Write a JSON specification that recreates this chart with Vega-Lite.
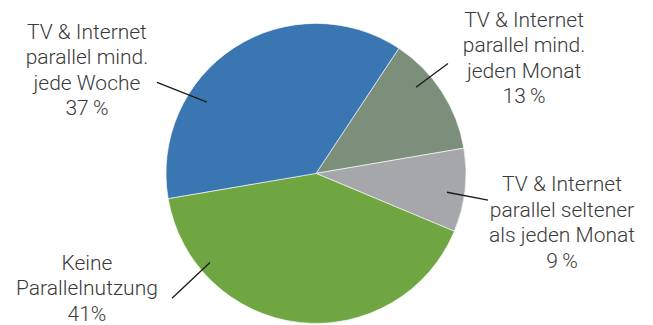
{
  "$schema": "https://vega.github.io/schema/vega-lite/v6.json",
  "width": 653,
  "height": 325,
  "padding": 0,
  "autosize": {"type": "fit", "contains": "padding"},
  "background": "#ffffff",
  "config": {"view": {"stroke": null}},
  "datasets": {
    "slices": [
      {"segment": "TV & Internet parallel mind. jeden Monat", "share": 13, "order": 1},
      {"segment": "TV & Internet parallel seltener als jeden Monat", "share": 9, "order": 2},
      {"segment": "Keine Parallelnutzung", "share": 41, "order": 3},
      {"segment": "TV & Internet parallel mind. jede Woche", "share": 37, "order": 4}
    ],
    "leaders": [
      {"segment": "jede Woche", "x": -1.06, "y": 0.613, "x2": -0.727, "y2": 0.48},
      {"segment": "jeden Monat", "x": 0.88, "y": 0.74, "x2": 0.667, "y2": 0.58},
      {"segment": "seltener", "x": 0.873, "y": -0.127, "x2": 1.147, "y2": -0.18},
      {"segment": "keine", "x": -0.96, "y": -0.84, "x2": -0.707, "y2": -0.6}
    ],
    "labels": [
      {"label": "TV & Internet\nparallel mind.\njede Woche\n37\u2009%", "x": -1.527, "y": 0.907},
      {"label": "TV & Internet\nparallel mind.\njeden Monat\n13\u2009%", "x": 1.387, "y": 0.987},
      {"label": "TV & Internet\nparallel seltener\nals jeden Monat\n9\u2009%", "x": 1.64, "y": -0.12},
      {"label": "Keine\nParallelnutzung\n41%", "x": -1.527, "y": -0.647}
    ]
  },
  "layer": [
    {
      "data": {"name": "slices"},
      "mark": {"type": "arc", "outerRadius": 150, "stroke": "#ffffff", "strokeWidth": 0.6},
      "encoding": {
        "x": {"datum": 0, "type": "quantitative", "scale": {"domain": [-2.10667, 2.24667], "nice": false, "zero": false}, "axis": null},
        "y": {"datum": 0, "type": "quantitative", "scale": {"domain": [-1, 1.16667], "nice": false, "zero": false}, "axis": null},
        "theta": {"field": "share", "type": "quantitative", "stack": true, "scale": {"range": [0.585, 6.8682]}},
        "order": {"field": "order", "type": "quantitative"},
        "color": {
          "field": "segment", "type": "nominal", "legend": null,
          "scale": {
            "domain": ["TV & Internet parallel mind. jeden Monat", "TV & Internet parallel seltener als jeden Monat", "Keine Parallelnutzung", "TV & Internet parallel mind. jede Woche"],
            "range": ["#7b8f7a", "#a6a7aa", "#6fa642", "#3a76b2"]
          }
        }
      }
    },
    {
      "data": {"name": "leaders"},
      "mark": {"type": "rule", "color": "#1a1a1a", "strokeWidth": 1.3},
      "encoding": {
        "x": {"field": "x", "type": "quantitative", "scale": {"domain": [-2.10667, 2.24667], "nice": false, "zero": false}, "axis": null},
        "y": {"field": "y", "type": "quantitative", "scale": {"domain": [-1, 1.16667], "nice": false, "zero": false}, "axis": null},
        "x2": {"field": "x2"},
        "y2": {"field": "y2"}
      }
    },
    {
      "data": {"name": "labels"},
      "mark": {"type": "text", "font": "Roboto", "fontWeight": 300, "fontSize": 21, "color": "#3a3a3a", "align": "center", "baseline": "alphabetic", "lineBreak": "\n", "lineHeight": 25.5},
      "encoding": {
        "x": {"field": "x", "type": "quantitative", "scale": {"domain": [-2.10667, 2.24667], "nice": false, "zero": false}, "axis": null},
        "y": {"field": "y", "type": "quantitative", "scale": {"domain": [-1, 1.16667], "nice": false, "zero": false}, "axis": null},
        "text": {"field": "label"}
      }
    }
  ]
}
